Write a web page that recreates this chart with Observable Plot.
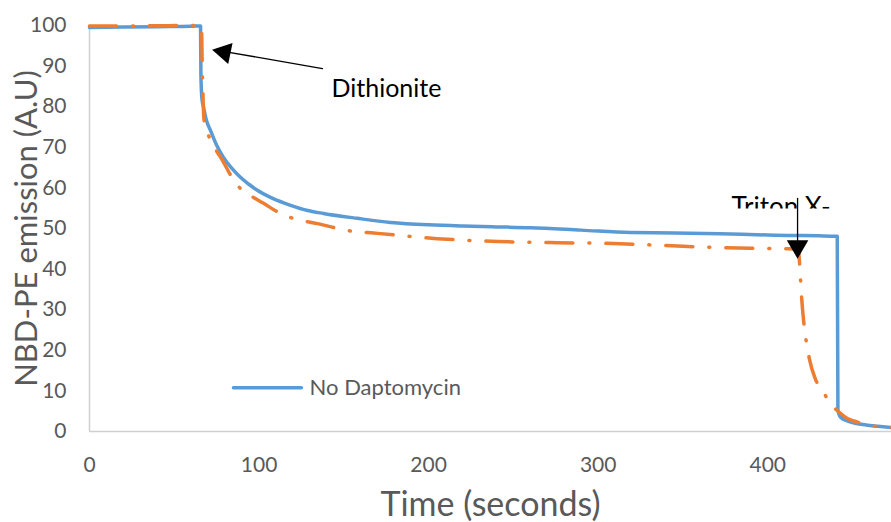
<!DOCTYPE html>
<html>
<head>
<meta charset="utf-8">
<script src="https://cdn.jsdelivr.net/npm/d3@7"></script>
<script src="https://cdn.jsdelivr.net/npm/@observablehq/plot@0.6"></script>
<style>
  html, body { margin: 0; padding: 0; background: #fff; }
  #chart svg { display: block; }
</style>
</head>
<body>
<div id="chart"></div>
<script>
// ---- data ----
const xTicks = [0, 100, 200, 300, 400];
const yTicks = [0, 10, 20, 30, 40, 50, 60, 70, 80, 90, 100];

// No Daptomycin (blue, solid)
const blueT = [0, 20, 40, 60, 65.5, 65.7, 66.3, 67.3, 69, 71.4, 75, 79, 84, 89, 94, 99, 108, 118.6, 128, 138, 158, 177.6, 200, 220, 240, 260, 290, 319, 345, 372, 400, 412, 430, 441, 441.4, 443, 447, 451, 458, 465, 473];
const blueV = [99.5, 99.6, 99.7, 99.8, 99.9, 88, 82, 79.8, 76.6, 74.1, 70.5, 67.5, 64.8, 62.6, 60.9, 59.4, 57.4, 55.7, 54.5, 53.7, 52.5, 51.5, 50.9, 50.6, 50.4, 50.2, 49.6, 49.0, 48.9, 48.7, 48.4, 48.3, 48.2, 48.1, 5.2, 3.5, 2.6, 2.1, 1.6, 1.3, 1.0];

// With Daptomycin (orange, dash-dot)
const orangeT = [0, 30, 60, 66, 66.5, 67.5, 70, 74, 78.5, 83, 88, 95, 102.7, 110, 118.6, 126, 134.5, 152, 170, 205, 240.7, 276, 309, 340, 372, 400, 412, 418, 419, 420, 421, 422, 424.5, 428, 432, 437, 442, 447, 453, 459, 466, 473];
const orangeV = [99.9, 99.9, 100, 100, 90, 77, 73.2, 69.8, 66.7, 63.3, 60.3, 58.1, 56.2, 54.3, 52.7, 51.9, 51.2, 49.5, 48.8, 47.5, 46.8, 46.5, 46.3, 45.8, 45.3, 45.1, 45.0, 44.8, 40, 33, 28, 24.4, 18, 13, 10.3, 6.9, 4.8, 3.2, 2.3, 1.5, 1.2, 1.0];

// annotations (data space)
const dithArrowT = [137.4, 78];
const dithArrowV = [89.4, 93.7];
const dithTip = [{t: 79.5, v: 93.4}];
const dithLabel = [{t: 142.7, v: 84.3, s: "Dithionite"}];
const tritonArrowT = [417.6, 417.6];
const tritonArrowV = [57.4, 47];
const tritonTip = [{t: 417.6, v: 45.6}];
const tritonLabel = [{t: 378.6, v: 55.2, s: "Triton X-"}];

const legendT = [84.9, 125];
const legendV = [10.8, 10.8];
const legendLabel = [{t: 129.8, v: 10.8, s: "No Daptomycin"}];

const blue = blueT.map((t, i) => ({t, v: blueV[i]}));
const orange = orangeT.map((t, i) => ({t, v: orangeV[i]}));
const pairs = (T, V) => T.map((t, i) => ({t, v: V[i]}));

const FONT = "Lato, 'Open Sans', sans-serif";
const GRAY = "#595959";

const chart = Plot.plot({
  width: 891,
  height: 522,
  marginLeft: 89,
  marginRight: 0,
  marginTop: 25,
  marginBottom: 91,
  x: {domain: [0, 473]},
  y: {domain: [0, 100]},
  style: {fontFamily: FONT, color: GRAY, background: "#fff", overflow: "visible"},
  marks: [
    Plot.axisY({ticks: yTicks, tickSize: 0, tickPadding: 23, fontSize: 21, label: null}),
    Plot.axisX({ticks: xTicks, tickSize: 0, tickPadding: 26, fontSize: 21, label: null}),
    Plot.ruleX([0], {stroke: "#d0d0d0", strokeWidth: 1.5}),
    Plot.ruleY([0], {stroke: "#d0d0d0", strokeWidth: 1.5}),
    Plot.text(["Time (seconds)"], {frameAnchor: "bottom", dy: 84, fontSize: 34, fill: GRAY}),
    Plot.text(["NBD-PE emission (A.U)"], {frameAnchor: "left", textAnchor: "middle", rotate: -90, dx: -62, fontSize: 31, fill: GRAY}),
    Plot.line(blue, {x: "t", y: "v", stroke: "#5B9BD5", strokeWidth: 3.5, curve: "monotone-x"}),
    Plot.line(orange, {x: "t", y: "v", stroke: "#ED7D31", strokeWidth: 3.5, curve: "monotone-x",
      strokeDasharray: "27,16,1,16", strokeLinecap: "round"}),
    // Dithionite annotation
    Plot.line(pairs(dithArrowT, dithArrowV), {x: "t", y: "v", stroke: "#000", strokeWidth: 1.3}),
    Plot.dot(dithTip, {x: "t", y: "v", symbol: "triangle", r: 8, fill: "#000", rotate: -78.4}),
    Plot.text(dithLabel, {x: "t", y: "v", text: "s", textAnchor: "start", fontSize: 25, fill: "#000"}),
    // Triton annotation
    Plot.text(tritonLabel, {x: "t", y: "v", text: "s", textAnchor: "start", fontSize: 26, fill: "#000"}),
    Plot.line(pairs(tritonArrowT, tritonArrowV), {x: "t", y: "v", stroke: "#000", strokeWidth: 1.3}),
    Plot.dot(tritonTip, {x: "t", y: "v", symbol: "triangle", r: 8, fill: "#000", rotate: 180}),
    // legend
    Plot.line(pairs(legendT, legendV), {x: "t", y: "v", stroke: "#5B9BD5", strokeWidth: 3.5, strokeLinecap: "round"}),
    Plot.text(legendLabel, {x: "t", y: "v", text: "s", textAnchor: "start", fontSize: 22, fill: GRAY})
  ]
});

// clip the Triton label like the reference (its lower part is cut off)
const svg = d3.select(chart);
const defs = svg.insert("defs", ":first-child");
defs.append("clipPath").attr("id", "tritonClip").attr("clipPathUnits", "userSpaceOnUse")
  .append("rect").attr("x", 0).attr("y", 0).attr("width", 891).attr("height", 208);
svg.selectAll("text")
  .filter(function() { return this.textContent === "Triton X-"; })
  .each(function() {
    const g = document.createElementNS("http://www.w3.org/2000/svg", "g");
    g.setAttribute("clip-path", "url(#tritonClip)");
    this.parentNode.insertBefore(g, this);
    g.appendChild(this);
  });

document.getElementById("chart").appendChild(chart);
</script>
</body>
</html>
